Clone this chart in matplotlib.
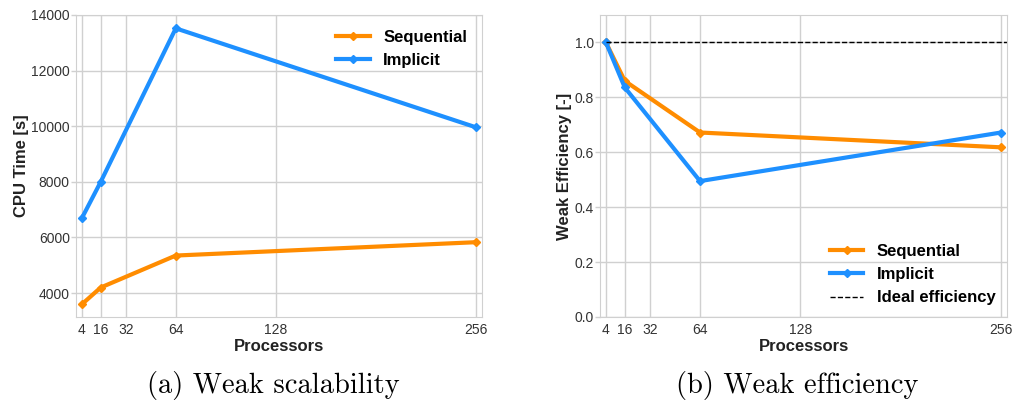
import matplotlib.pyplot as plt

procs = [4, 16, 64, 256]
xticks = [4, 16, 32, 64, 128, 256]

seq_time = [3600, 4200, 5350, 5830]
imp_time = [6700, 8000, 13520, 9960]

seq_eff = [1.0, 0.86, 0.672, 0.618]
imp_eff = [1.0, 0.836, 0.495, 0.672]
ideal = [1.0, 1.0]

plt.rcParams['font.family'] = ['Liberation Sans', 'DejaVu Sans']

fig = plt.figure(figsize=(10.13, 4.05), dpi=100)
W, H = 1013, 405
ax1 = fig.add_axes([76 / W, (H - 317) / H, 406 / W, 302 / H])
ax2 = fig.add_axes([600 / W, (H - 317) / H, 407 / W, 302 / H])

orange = '#ff8c00'
blue = '#1e90ff'

def style(ax):
    ax.set_xticks(xticks)
    ax.set_xlim(0.2, 259.8)
    ax.grid(True, color='#d0d0d0', lw=1)
    ax.set_axisbelow(True)
    for s in ax.spines.values():
        s.set_color('#d0d0d0')
    ax.tick_params(labelsize=10, labelcolor='#333333')
    ax.tick_params(axis='x', length=0, pad=4)
    ax.tick_params(axis='y', length=3.5, width=1, color='#d0d0d0', pad=1)
    ax.set_xlabel('Processors', fontsize=12, fontweight='bold', color='#222222', labelpad=2)

ax1.plot(procs, seq_time, color=orange, lw=3, marker='D', ms=4, label='Sequential')
ax1.plot(procs, imp_time, color=blue, lw=3, marker='D', ms=4, label='Implicit')
ax1.set_ylim(3140, 14000)
ax1.set_yticks([4000, 6000, 8000, 10000, 12000, 14000])
style(ax1)
ax1.set_ylabel('CPU Time [s]', fontsize=12, fontweight='bold', color='#222222', labelpad=1.5)
ax1.legend(loc='upper right', frameon=False, prop={'weight': 'bold', 'size': 12}, handlelength=2.0)

ax2.plot(procs, seq_eff, color=orange, lw=3, marker='D', ms=4, label='Sequential')
ax2.plot(procs, imp_eff, color=blue, lw=3, marker='D', ms=4, label='Implicit')
ax2.plot([4, 260], ideal, color='black', lw=1, ls='--', label='Ideal efficiency')
ax2.set_ylim(0, 1.1)
ax2.set_yticks([0.0, 0.2, 0.4, 0.6, 0.8, 1.0])
style(ax2)
ax2.set_ylabel('Weak Efficiency [-]', fontsize=12, fontweight='bold', color='#222222', labelpad=1.5)
ax2.legend(loc='lower right', frameon=False, prop={'weight': 'bold', 'size': 12}, handlelength=2.0,
           borderaxespad=0.3)

fig.text(273 / W, 1 - 386 / H, '(a) Weak scalability', ha='center', va='center', family='cmr10', fontsize=20.5)
fig.text(797 / W, 1 - 386 / H, '(b) Weak efficiency', ha='center', va='center', family='cmr10', fontsize=20.5)

fig.savefig('out.png', dpi=100)
